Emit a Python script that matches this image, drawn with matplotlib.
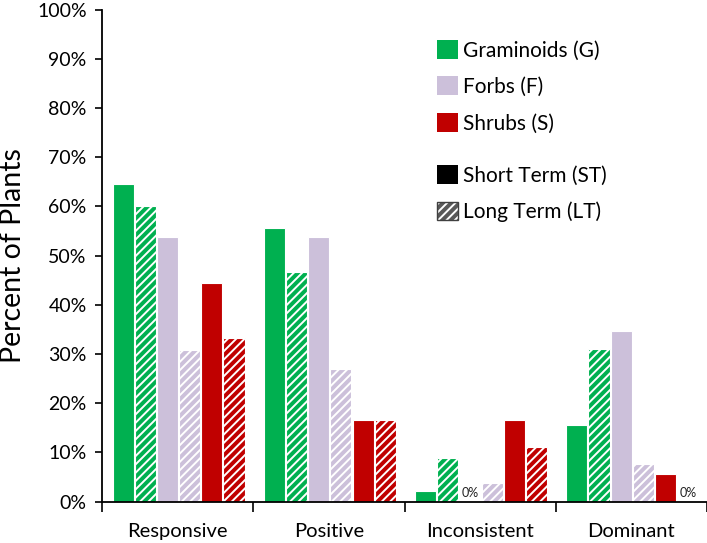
import matplotlib
matplotlib.use("Agg")
import matplotlib.pyplot as plt
from matplotlib.patches import Patch
from matplotlib.legend_handler import HandlerTuple
from matplotlib.ticker import FixedLocator, PercentFormatter
import numpy as np

plt.rcParams['font.family'] = ['Lato', 'DejaVu Sans']
plt.rcParams['hatch.linewidth'] = 1.4

categories = ["Responsive", "Positive", "Inconsistent", "Dominant"]
series_names = ["G ST", "G LT", "F ST", "F LT", "S ST", "S LT"]
g_st = [64.5, 55.6, 2.2, 15.6]
g_lt = [60.0, 46.7, 8.9, 31.1]
f_st = [53.8, 53.8, 0.0, 34.6]
f_lt = [30.8, 26.9, 3.8, 7.7]
s_st = [44.4, 16.7, 16.7, 5.6]
s_lt = [33.3, 16.7, 11.1, 0.0]
series_values = [g_st, g_lt, f_st, f_lt, s_st, s_lt]
yticks = [0, 10, 20, 30, 40, 50, 60, 70, 80, 90, 100]

green = "#00B050"
lav = "#CCC0DA"
red = "#C00000"
colors = [green, green, lav, lav, red, red]
hatched = [False, True, False, True, False, True]

fig = plt.figure(figsize=(7.07, 5.43), dpi=100)
ax = fig.add_axes([0.1443, 0.0761, 0.8557, 0.9061])

slot = 0.88 / 6
width = 0.139
x = np.arange(len(categories)) + 0.5
for j, vals in enumerate(series_values):
    pos = x + (j - 2.5) * slot + 0.006
    if hatched[j]:
        ax.bar(pos, vals, width, facecolor=colors[j], edgecolor="white",
               linewidth=0.8, hatch="////", zorder=2)
    else:
        ax.bar(pos, vals, width, facecolor=colors[j], edgecolor="white",
               linewidth=0.8, zorder=2)
    for p, v in zip(pos, vals):
        if v == 0:
            ax.text(p, 0.6, "0%", ha="center", va="bottom", fontsize=9,
                    color="#222222")

ax.set_xlim(0, len(categories))
ax.set_ylim(0, 100)
ax.set_yticks(yticks)
ax.yaxis.set_major_formatter(PercentFormatter(decimals=0))
ax.set_xticks(x)
ax.set_xticklabels(categories, fontsize=14.5)
ax.xaxis.set_minor_locator(FixedLocator(np.arange(len(categories) + 1)))
ax.tick_params(axis="x", which="major", length=0, pad=15)
ax.tick_params(axis="x", which="minor", length=7, width=1.2, direction="out")
ax.tick_params(axis="y", length=5, width=1.2, direction="out", labelsize=14, pad=6)
for s in ["top", "right"]:
    ax.spines[s].set_visible(False)
for s in ["left", "bottom"]:
    ax.spines[s].set_linewidth(1.3)
    ax.spines[s].set_color("black")
ax.set_ylabel("Percent of Plants", fontsize=20.5, labelpad=8)

legkw = dict(loc="upper left", frameon=False, fontsize=15, handlelength=1.0,
             handleheight=1.0, handletextpad=0.25, labelspacing=0.77,
             borderaxespad=0, borderpad=0)
h1 = [Patch(facecolor=green, edgecolor="none"),
      Patch(facecolor=lav, edgecolor="none"),
      Patch(facecolor=red, edgecolor="none")]
l1 = ["Graminoids (G)", "Forbs (F)", "Shrubs (S)"]
leg1 = ax.legend(h1, l1, bbox_to_anchor=(0.5537, 0.9384), **legkw)
ax.add_artist(leg1)
h2 = [Patch(facecolor="black", edgecolor="none"),
      (Patch(facecolor="#595959", edgecolor="white", hatch="////", linewidth=0),
       Patch(fill=False, edgecolor="#404040", linewidth=1.0))]
l2 = ["Short Term (ST)", "Long Term (LT)"]
ax.legend(h2, l2, bbox_to_anchor=(0.5537, 0.684),
          handler_map={tuple: HandlerTuple(ndivide=1, pad=0)}, **legkw)

fig.savefig("out.png", dpi=100)
